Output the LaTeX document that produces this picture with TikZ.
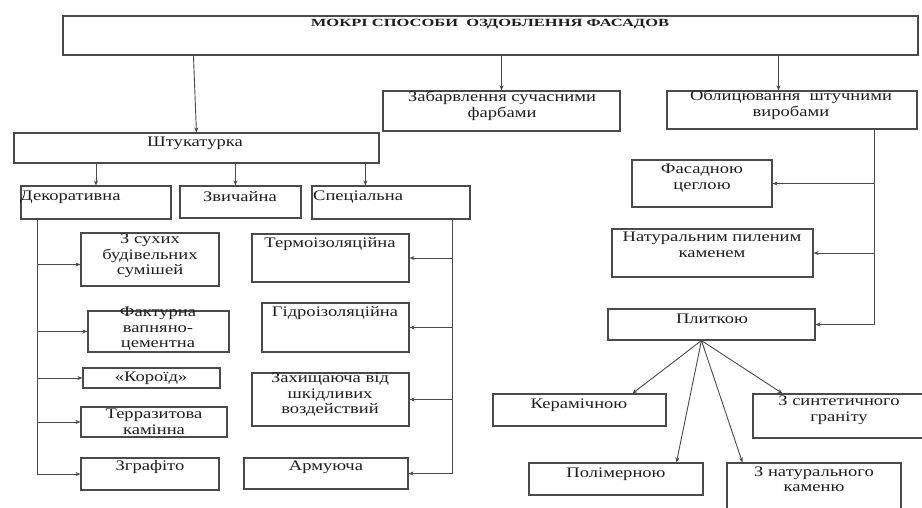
\documentclass[tikz,border=0pt]{standalone}
\usepackage{fontspec}
\setmainfont[FakeStretch=1.27]{Liberation Serif}
\newfontfamily\ttlfont[FakeStretch=1.5]{Liberation Serif}
\usetikzlibrary{arrows.meta,fit,calc}
\definecolor{lnc}{HTML}{4A4A4A}
\definecolor{txc}{HTML}{1E1E1E}
\begin{document}
\begin{tikzpicture}[x=1pt,y=-1pt,
  box/.style={draw=lnc,line width=1.1pt,inner sep=0pt},
  txt/.style={text=txc,font=\fontsize{14.6}{15.5}\selectfont,align=center,inner sep=0pt},
  arr/.style={draw=lnc,line width=0.9pt,-{Stealth[length=5pt,width=4pt]}},
  trunk/.style={draw=lnc,line width=0.9pt}]
\useasboundingbox (0,0) rectangle (922,507);
\fill[white] (0,0) rectangle (922,507);
% boxes
\node[box,fit={(63,16)(918,55)}] (top) {};
\node[box,fit={(383,91)(620,131)}] (zab) {};
\node[box,fit={(667,91)(917,129)}] (obl) {};
\node[box,fit={(14,133)(379,163)}] (shtuk) {};
\node[box,fit={(21,186)(171,219)}] (dek) {};
\node[box,fit={(180,186)(301,218)}] (zvy) {};
\node[box,fit={(312,186)(470,219)}] (spec) {};
\node[box,fit={(81,233)(219,286)}] (suh) {};
\node[box,fit={(88,311)(229,352)}] (fakt) {};
\node[box,fit={(83,368)(220,388)}] (kor) {};
\node[box,fit={(81,407)(227,437)}] (terr) {};
\node[box,fit={(81,458)(219,490)}] (zgr) {};
\node[box,fit={(252,234)(409,282)}] (term) {};
\node[box,fit={(262,303)(409,352)}] (gidro) {};
\node[box,fit={(252,373)(409,426)}] (zahy) {};
\node[box,fit={(244,458)(408,489)}] (arm) {};
\node[box,fit={(632,160)(772,207)}] (fas) {};
\node[box,fit={(612,229)(813,277)}] (nat) {};
\node[box,fit={(608,309)(815,340)}] (plyt) {};
\node[box,fit={(493,394)(666,426)}] (ker) {};
\node[box,fit={(753,394)(925,438)}] (synt) {};
\node[box,fit={(529,463)(703,495)}] (polim) {};
\node[box,fit={(727,463)(901,515)}] (natk) {};
% texts
\node[txt] (topt) at (490,24) {\ttlfont\bfseries\fontsize{11}{12}\selectfont МОКРІ СПОСОБИ\ \ ОЗДОБЛЕННЯ ФАСАДОВ};
\node[txt] (zabt) at (502,106) {Забарвлення сучасними\\фарбами};
\node[txt] (oblt) at (791,105) {Облицювання\ \ штучними\\виробами};
\node[txt] (shtukt) at (195,143) {Штукатурка};
\node[txt,anchor=west] (dekt) at (20,197) {Декоративна};
\node[txt] (zvyt) at (240,197) {Звичайна};
\node[txt,anchor=west] (spect) at (313,197) {Спеціальна};
\node[txt] (suht) at (150,256) {З сухих\\будівельних\\сумішей};
\node[txt] (faktt) at (158,329) {Фактурна\\вапняно-\\цементна};
\node[txt] (kort) at (151,378) {«Короїд»};
\node[txt] (terrt) at (154,422) {Терразитова\\камінна};
\node[txt] (zgrt) at (150,467) {Зграфіто};
\node[txt] (termt) at (330,244) {Термоізоляційна};
\node[txt] (gidrot) at (335,313) {Гідроізоляційна};
\node[txt] (zahyt) at (330,395) {Захищаюча від\\шкідливих\\воздействий};
\node[txt] (armt) at (326,467) {Армуюча};
\node[txt] (fast) at (702,178) {Фасадною\\цеглою};
\node[txt] (natt) at (712,245) {Натуральним пиленим\\каменем};
\node[txt] (plytt) at (712,319) {Плиткою};
\node[txt] (kert) at (579,405) {Керамічною};
\node[txt] (syntt) at (839,410) {З синтетичного\\граніту};
\node[txt] (polimt) at (616,474) {Полімерною};
\node[txt] (natkt) at (814,479) {З натурального\\каменю};
% connectors top level
\draw[arr] ($(top.south west)+(131,0)$) -- ($(shtuk.north west)+(183,0)$);
\draw[arr] (zab.north |- top.south) -- (zab.north);
\coordinate (oa) at ($(obl.north west)+(112,0)$);
\draw[arr] (oa |- top.south) -- (oa);
% plaster
\draw[arr] (dek.north |- shtuk.south) -- (dek.north);
\coordinate (za) at ($(zvy.north west)+(56,0)$);
\draw[arr] (za |- shtuk.south) -- (za);
\coordinate (sa) at ($(spec.north west)+(54,0)$);
\draw[arr] (sa |- shtuk.south) -- (sa);
% left trunk
\coordinate (dl) at ($(dek.south west)+(17,0)$);
\draw[trunk] (dl) -- (dl |- zgr.west);
\coordinate (suhin) at ($(suh.west)+(0,5)$);
\draw[arr] (dl |- suhin) -- (suhin);
\draw[arr] (dl |- fakt.west) -- (fakt.west);
\draw[arr] (dl |- kor.west) -- (kor.west);
\draw[arr] (dl |- terr.west) -- (terr.west);
\draw[arr] (dl |- zgr.west) -- (zgr.west);
% right trunk
\coordinate (sr) at ($(spec.south east)+(-18,0)$);
\draw[trunk] (sr) -- (sr |- arm.east);
\draw[arr] (sr |- term.east) -- (term.east);
\draw[arr] (sr |- gidro.east) -- (gidro.east);
\draw[arr] (sr |- zahy.east) -- (zahy.east);
\draw[arr] (sr |- arm.east) -- (arm.east);
% cladding trunk
\coordinate (orr) at ($(obl.south east)+(-43,0)$);
\draw[trunk] (orr) -- (orr |- plyt.east);
\draw[arr] (orr |- fas.east) -- (fas.east);
\draw[arr] (orr |- nat.east) -- (nat.east);
\draw[arr] (orr |- plyt.east) -- (plyt.east);
% tile fan
\coordinate (pf) at ($(plyt.south west)+(94,0)$);
\draw[arr] (pf) -- ($(ker.north west)+(140,0)$);
\draw[arr] (pf) -- ($(polim.north west)+(148,0)$);
\draw[arr] (pf) -- ($(natk.north west)+(16,0)$);
\draw[arr] (pf) -- ($(synt.north west)+(30,0)$);
\end{tikzpicture}
\end{document}
